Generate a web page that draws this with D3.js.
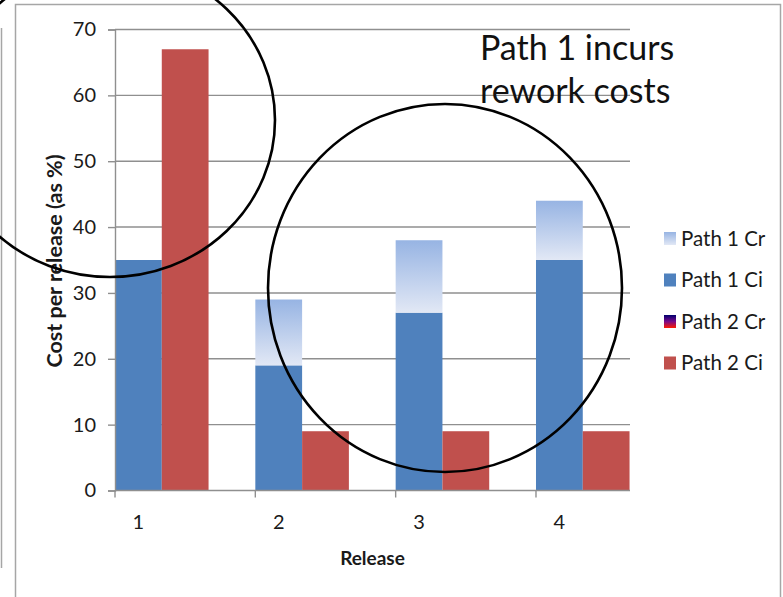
<!DOCTYPE html>
<html>
<head>
<meta charset="utf-8">
<script src="https://cdn.jsdelivr.net/npm/d3@7"></script>
<style>
  html, body { margin: 0; padding: 0; background: #ffffff; }
  svg { display: block; font-family: Lato, "Open Sans", sans-serif; }
</style>
</head>
<body>
<svg id="chart" width="783" height="597"></svg>
<script>
// Cost per release, split into initial cost (Ci) and rework cost (Cr) for two paths
const releases = ["1", "2", "3", "4"];
const path1Ci = [35, 19, 27, 35];
const path1Cr = [0, 10, 11, 9];
const path2Ci = [67, 9, 9, 9];
const path2Cr = [0, 0, 0, 0];
const yTicks = [0, 10, 20, 30, 40, 50, 60, 70];
const legendLabels = ["Path 1 Cr", "Path 1 Ci", "Path 2 Cr", "Path 2 Ci"];

const svg = d3.select("#chart");

// gradients for the rework segments
const defs = svg.append("defs");
const gradP1Cr = defs.append("linearGradient").attr("id", "gradP1Cr")
  .attr("x1", 0).attr("y1", 0).attr("x2", 0).attr("y2", 1);
gradP1Cr.append("stop").attr("offset", "0%").attr("stop-color", "#97b4e3");
gradP1Cr.append("stop").attr("offset", "100%").attr("stop-color", "#e2e8f5");
const gradP2Cr = defs.append("linearGradient").attr("id", "gradP2Cr")
  .attr("x1", 0).attr("y1", 0).attr("x2", 0).attr("y2", 1);
gradP2Cr.append("stop").attr("offset", "0%").attr("stop-color", "#00006e");
gradP2Cr.append("stop").attr("offset", "50%").attr("stop-color", "#7a0a8a");
gradP2Cr.append("stop").attr("offset", "100%").attr("stop-color", "#ff1a00");

const colors = {
  "Path 1 Cr": "url(#gradP1Cr)",
  "Path 1 Ci": "#4f81bd",
  "Path 2 Cr": "url(#gradP2Cr)",
  "Path 2 Ci": "#c0504d"
};

// outer frames
svg.append("line").attr("x1", 1.5).attr("x2", 1.5).attr("y1", 28).attr("y2", 568)
  .attr("stroke", "#a6a6a6").attr("stroke-width", 1.5);
svg.append("rect").attr("x", 15.5).attr("y", 4.5).attr("width", 765).attr("height", 700)
  .attr("fill", "none").attr("stroke", "#a6a6a6").attr("stroke-width", 1.5);

// scales
const plotLeft = 115, plotRight = 630;
const x = d3.scaleBand().domain(releases).range([plotLeft, plotLeft + 4 * 140.33]).padding(0);
const barW = x.bandwidth() / 3;
const y = d3.scaleLinear().domain([0, 70]).range([490.5, 29.5]);

// gridlines
svg.append("g").selectAll("line").data(yTicks.filter(t => t > 0)).join("line")
  .attr("x1", plotLeft).attr("x2", plotRight)
  .attr("y1", d => y(d)).attr("y2", d => y(d))
  .attr("stroke", "#8f8f8f").attr("stroke-width", 1.4);

// stacked bars per path
const rows = releases.map((r, i) => ({
  release: r,
  "Path 1 Ci": path1Ci[i], "Path 1 Cr": path1Cr[i],
  "Path 2 Ci": path2Ci[i], "Path 2 Cr": path2Cr[i]
}));
const paths = [
  { keys: ["Path 1 Ci", "Path 1 Cr"], offset: 0 },
  { keys: ["Path 2 Ci", "Path 2 Cr"], offset: 1 }
];
paths.forEach(p => {
  const stacked = d3.stack().keys(p.keys)(rows);
  stacked.forEach(layer => {
    svg.append("g").selectAll("rect").data(layer.filter(d => d[1] > d[0])).join("rect")
      .attr("x", d => x(d.data.release) + p.offset * barW)
      .attr("width", barW)
      .attr("y", d => y(d[1]))
      .attr("height", d => y(d[0]) - y(d[1]))
      .attr("fill", colors[layer.key]);
  });
});

// y axis
const yAxis = svg.append("g").attr("transform", `translate(${plotLeft},0)`)
  .call(d3.axisLeft(y).tickValues(yTicks).tickSize(7).tickPadding(12));
yAxis.select(".domain").attr("stroke", "#8f8f8f").attr("stroke-width", 1.4);
yAxis.selectAll(".tick line").attr("stroke", "#8f8f8f").attr("stroke-width", 1.4);
yAxis.selectAll(".tick text").attr("font-size", 20).attr("font-family", "Lato, sans-serif")
  .attr("fill", "#1a1a1a");

// x axis
const xAxisG = svg.append("g").attr("transform", `translate(0,${y(0)})`);
xAxisG.append("line").attr("x1", plotLeft).attr("x2", plotRight)
  .attr("stroke", "#8f8f8f").attr("stroke-width", 1.4);
xAxisG.selectAll("line.tk").data(releases).join("line").attr("class", "tk")
  .attr("x1", d => x(d)).attr("x2", d => x(d)).attr("y1", 0).attr("y2", 7)
  .attr("stroke", "#8f8f8f").attr("stroke-width", 1.4);
xAxisG.selectAll("text").data(releases).join("text")
  .attr("x", d => x(d) + barW / 2).attr("y", 38)
  .attr("text-anchor", "middle").attr("font-size", 20).attr("fill", "#1a1a1a")
  .text(d => d);

// axis titles
svg.append("text").attr("x", (plotLeft + plotRight) / 2).attr("y", 565)
  .attr("text-anchor", "middle").attr("font-size", 19).attr("font-weight", "bold")
  .attr("fill", "#1a1a1a").text("Release");
svg.append("text").attr("transform", "translate(62,261) rotate(-90)")
  .attr("text-anchor", "middle").attr("font-size", 21.5).attr("font-weight", "bold")
  .attr("fill", "#1a1a1a").text("Cost per release (as %)");

// legend
const legend = svg.append("g").selectAll("g").data(legendLabels).join("g")
  .attr("transform", (d, i) => `translate(664,${232 + i * 41.5})`);
legend.append("rect").attr("width", 12).attr("height", 13).attr("fill", d => colors[d]);
legend.append("text").attr("x", 17).attr("y", 13.5).attr("font-size", 20.5)
  .attr("fill", "#1a1a1a").text(d => d);

// annotation
const note = svg.append("text").attr("font-size", 34).attr("fill", "#111");
note.append("tspan").attr("x", 480).attr("y", 60).text("Path 1 incurs");
note.append("tspan").attr("x", 480).attr("y", 103).text("rework costs");

// highlight ellipses
svg.append("ellipse").attr("cx", 110).attr("cy", 120).attr("rx", 165).attr("ry", 157)
  .attr("fill", "none").attr("stroke", "#000").attr("stroke-width", 2.6);
svg.append("ellipse").attr("cx", 445).attr("cy", 288).attr("rx", 177).attr("ry", 184)
  .attr("fill", "none").attr("stroke", "#000").attr("stroke-width", 2.6);
</script>
</body>
</html>
